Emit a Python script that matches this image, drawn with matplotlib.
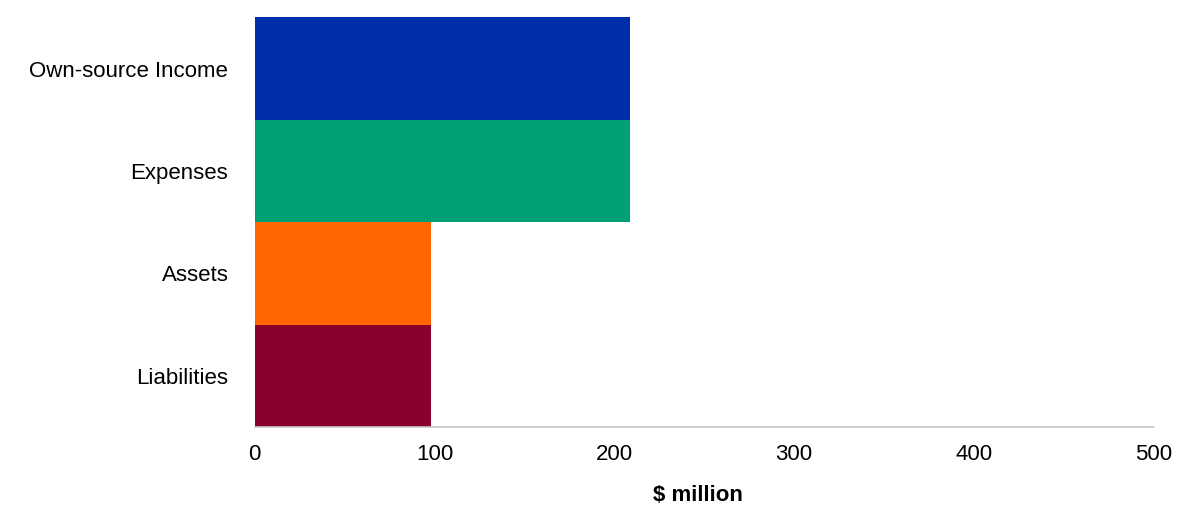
import matplotlib
matplotlib.use("Agg")
import matplotlib.pyplot as plt

categories = ["Own-source Income", "Expenses", "Assets", "Liabilities"]
values = [208.6, 208.6, 97.9, 97.9]
colors = ["#002da8", "#009f74", "#ff6600", "#8a002d"]

plt.rcParams['font.family'] = ['Liberation Sans', 'DejaVu Sans']

fig = plt.figure(figsize=(12, 5.2), dpi=100)
ax = fig.add_axes([0.2123, 0.1788, 0.7491, 0.7879])

ypos = list(range(len(categories)))
ax.barh(ypos, values, height=1.0, color=colors)
ax.set_yticks(ypos)
ax.set_yticklabels(categories, fontsize=16)
ax.set_ylim(len(categories) - 0.5, -0.5)
ax.set_xlim(0, 500)
ax.set_xticks([0, 100, 200, 300, 400, 500])
ax.tick_params(axis="x", labelsize=16, length=0, pad=12)
ax.tick_params(axis="y", length=0, pad=19)
ax.set_xlabel("$ million", fontsize=16, fontweight="bold")
ax.xaxis.set_label_coords(0.493, -0.141)

for s in ["top", "right", "left"]:
    ax.spines[s].set_visible(False)
ax.spines["bottom"].set_color("#c8c8c8")
ax.spines["bottom"].set_linewidth(1.2)

fig.savefig("out.png", dpi=100)
